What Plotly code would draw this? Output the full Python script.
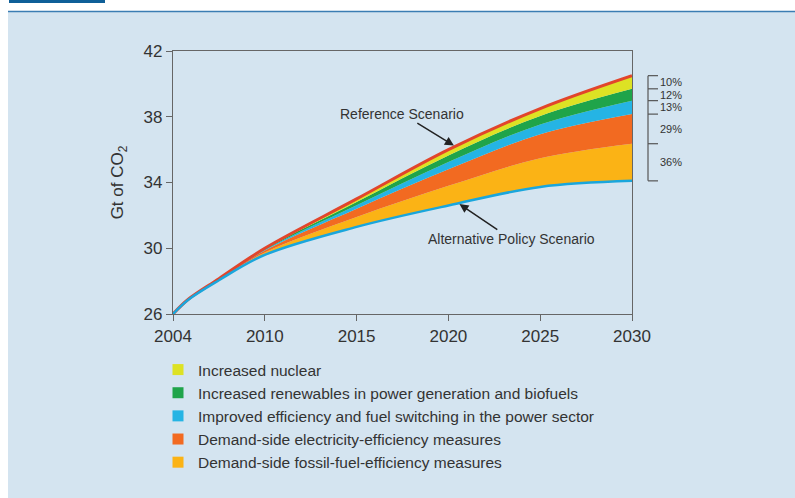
import numpy as np
import plotly.graph_objects as go

# ---------------- data ----------------
years = [2004, 2005, 2007, 2010, 2015, 2020, 2025, 2030]
reference = [26.0, 26.9, 28.15, 30.0, 33.0, 36.0, 38.5, 40.5]          # Gt CO2
nuclear = [0.0, 0.005, 0.01, 0.04, 0.18, 0.35, 0.45, 0.80]
renewables = [0.0, 0.005, 0.01, 0.05, 0.20, 0.40, 0.52, 0.72]
power_sector = [0.0, 0.005, 0.015, 0.05, 0.22, 0.45, 0.60, 0.82]
elec_efficiency = [0.0, 0.01, 0.03, 0.12, 0.50, 1.00, 1.45, 1.80]
fossil_efficiency = [0.0, 0.01, 0.035, 0.14, 0.60, 1.20, 1.75, 2.26]

tick_years = [2004, 2010, 2015, 2020, 2025, 2030]
y_ticks = [26, 30, 34, 38, 42]
share_labels = ["10%", "12%", "13%", "29%", "36%"]   # top to bottom
wedge_names = [
    "Increased nuclear",
    "Increased renewables in power generation and biofuels",
    "Improved efficiency and fuel switching in the power sector",
    "Demand-side electricity-efficiency measures",
    "Demand-side fossil-fuel-efficiency measures",
]

# ---------------- styling ----------------
FONT = "Liberation Sans, Arial, Helvetica, sans-serif"
TXT = "#333333"
PANEL = "#d4e4f0"
wedge_colors = ["#dde224", "#1fa44a", "#25b4e4", "#f26a21", "#fbb315"]
REF_COLOR = "#e2452b"
ALT_COLOR = "#1aa6dc"

# the x axis of the original has equally spaced ticks (2004, 2010, 2015 ...)
def axis_pos(y):
    return np.interp(y, tick_years, np.arange(len(tick_years)))

x = axis_pos(np.array(years, dtype=float))
ref = np.array(reference)
wedges_top_down = [np.array(v) for v in
                   [nuclear, renewables, power_sector, elec_efficiency, fossil_efficiency]]
alt = ref - sum(wedges_top_down)

fig = go.Figure()

# base (alternative policy scenario), invisible, for the fill stack
fig.add_trace(go.Scatter(x=x, y=alt, mode="lines", line=dict(width=0, shape="spline"),
                         showlegend=False, hoverinfo="skip"))
cum = alt.copy()
bounds = [alt[-1]]
for name, vals, col in reversed(list(zip(wedge_names, wedges_top_down, wedge_colors))):
    cum = cum + vals
    bounds.append(cum[-1])
    fig.add_trace(go.Scatter(x=x, y=cum, mode="lines", fill="tonexty", fillcolor=col,
                             line=dict(width=0, shape="spline"), name=name,
                             showlegend=False))

fig.add_trace(go.Scatter(x=x, y=ref, mode="lines", name="Reference Scenario",
                         line=dict(color=REF_COLOR, width=3, shape="spline"), showlegend=False))
fig.add_trace(go.Scatter(x=x, y=alt, mode="lines", name="Alternative Policy Scenario",
                         line=dict(color=ALT_COLOR, width=2.5, shape="spline"), showlegend=False))

# legend entries (square swatches)
for name, col in zip(wedge_names, wedge_colors):
    fig.add_trace(go.Scatter(x=[None], y=[None], mode="markers", name=name,
                             marker=dict(symbol="square", size=11, color=col),
                             showlegend=True))

# ---------------- layout ----------------
W, H = 795, 498
L, R, T, B = 173, 632, 51, 314
pw, ph = R - L, B - T

def px_x(p):
    return (p - L) / pw

def px_y(p):
    return (B - p) / ph

shapes = [
    # light-blue panel
    dict(type="rect", xref="paper", yref="paper", x0=px_x(8), x1=px_x(800),
         y0=px_y(12), y1=px_y(505), fillcolor=PANEL, line=dict(width=0), layer="below"),
    # top rule and tab
    dict(type="line", xref="paper", yref="paper", x0=px_x(8), x1=px_x(800),
         y0=px_y(11.5), y1=px_y(11.5), line=dict(color="#3b7db3", width=1.5)),
    dict(type="rect", xref="paper", yref="paper", x0=px_x(9), x1=px_x(105),
         y0=px_y(-1), y1=px_y(3), fillcolor="#0f5f98", line=dict(width=0)),
]

# bracket with shares at 2030
bx0, bx1 = px_x(648), px_x(658)
shapes.append(dict(type="line", xref="paper", yref="y", x0=bx0, x1=bx0,
                   y0=bounds[0], y1=bounds[-1], line=dict(color="#555555", width=1.2)))
for b in bounds:
    shapes.append(dict(type="line", xref="paper", yref="y", x0=bx0, x1=bx1,
                       y0=b, y1=b, line=dict(color="#555555", width=1.2)))

annotations = []
top_down_bounds = bounds[::-1]
for i, lab in enumerate(share_labels):
    mid = (top_down_bounds[i] + top_down_bounds[i + 1]) / 2
    annotations.append(dict(x=bx1, y=mid, xref="paper", yref="y", text=lab,
                            showarrow=False, xanchor="left", yanchor="middle",
                            font=dict(family=FONT, size=11, color=TXT)))

# scenario labels with arrows pointing at the curves
ref_pt = 2020.3
alt_pt = 2020.6
annotations += [
    dict(x=axis_pos(ref_pt), y=float(np.interp(axis_pos(ref_pt), x, ref)) + 0.1,
         xref="x", yref="y", text="Reference Scenario", showarrow=True,
         ax=-52, ay=-32, arrowhead=2, arrowsize=1.2, arrowwidth=1.5,
         arrowcolor="#222222", font=dict(family=FONT, size=14, color=TXT)),
    dict(x=axis_pos(alt_pt), y=float(np.interp(axis_pos(alt_pt), x, alt)) - 0.05,
         xref="x", yref="y", text="Alternative Policy Scenario", showarrow=True,
         ax=52, ay=35, arrowhead=2, arrowsize=1.2, arrowwidth=1.5,
         arrowcolor="#222222", font=dict(family=FONT, size=14, color=TXT)),
]

axis_line = dict(showline=True, linecolor="#666666", linewidth=1.3, mirror=True,
                 showgrid=False, zeroline=False, ticks="outside", ticklen=6,
                 tickcolor="#666666", tickwidth=1.3,
                 tickfont=dict(family=FONT, size=17, color=TXT))

fig.update_layout(
    width=W, height=H, autosize=False,
    margin=dict(l=L, r=W - R, t=T, b=H - B, pad=0),
    paper_bgcolor="white", plot_bgcolor=PANEL,
    font=dict(family=FONT, color=TXT),
    xaxis=dict(range=[0, len(tick_years) - 1], tickvals=list(range(len(tick_years))),
               ticktext=[str(t) for t in tick_years], **axis_line),
    yaxis=dict(range=[y_ticks[0], y_ticks[-1]], tickvals=y_ticks,
               title=dict(text="Gt of CO<sub>2</sub>", standoff=15,
                          font=dict(family=FONT, size=17, color=TXT)),
               **axis_line),
    legend=dict(x=px_x(158), y=px_y(353), xanchor="left", yanchor="top",
                traceorder="normal",
                bgcolor="rgba(0,0,0,0)", font=dict(family=FONT, size=15.5, color=TXT),
                itemwidth=30, tracegroupgap=0),
    shapes=shapes,
    annotations=annotations,
)

fig.write_html("out.html", config={"displayModeBar": False},
               post_script="document.body.style.margin='0px';")
